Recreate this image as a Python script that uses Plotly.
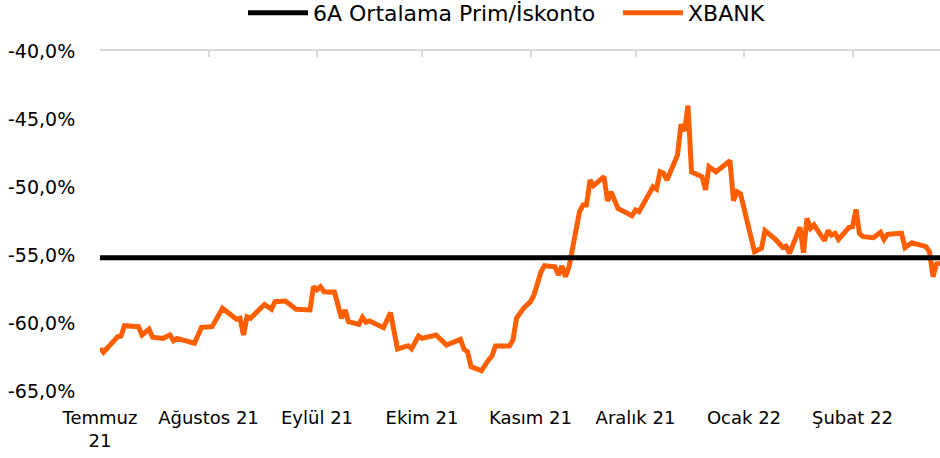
"""XBANK premium/discount vs 6-month average."""

import plotly.graph_objects as go

DATES = [
    "2021-07-01", "2021-07-02", "2021-07-06", "2021-07-07", "2021-07-08",
    "2021-07-12", "2021-07-13", "2021-07-15", "2021-07-16", "2021-07-19",
    "2021-07-21", "2021-07-22", "2021-07-23", "2021-07-27", "2021-07-28",
    "2021-07-30", "2021-08-02", "2021-08-05", "2021-08-09", "2021-08-10",
    "2021-08-11", "2021-08-12", "2021-08-13", "2021-08-17", "2021-08-19",
    "2021-08-20", "2021-08-23", "2021-08-26", "2021-08-30", "2021-08-31",
    "2021-09-01", "2021-09-02", "2021-09-03", "2021-09-06", "2021-09-08",
    "2021-09-09", "2021-09-10", "2021-09-13", "2021-09-14", "2021-09-15",
    "2021-09-16", "2021-09-20", "2021-09-22", "2021-09-24", "2021-09-27",
    "2021-09-28", "2021-09-30", "2021-10-01", "2021-10-05", "2021-10-08",
    "2021-10-12", "2021-10-13", "2021-10-14", "2021-10-15", "2021-10-18",
    "2021-10-20", "2021-10-21", "2021-10-22", "2021-10-26", "2021-10-27",
    "2021-10-28", "2021-10-30", "2021-11-01", "2021-11-02", "2021-11-04",
    "2021-11-05", "2021-11-08", "2021-11-09", "2021-11-10", "2021-11-11",
    "2021-11-12", "2021-11-15", "2021-11-16", "2021-11-17", "2021-11-18",
    "2021-11-19", "2021-11-22", "2021-11-23", "2021-11-24", "2021-11-26",
    "2021-11-30", "2021-12-01", "2021-12-02", "2021-12-06", "2021-12-07",
    "2021-12-08", "2021-12-09", "2021-12-10", "2021-12-13", "2021-12-14",
    "2021-12-15", "2021-12-16", "2021-12-17", "2021-12-20", "2021-12-21",
    "2021-12-22", "2021-12-24", "2021-12-28", "2021-12-29", "2021-12-30",
    "2021-12-31", "2022-01-04", "2022-01-06", "2022-01-07", "2022-01-10",
    "2022-01-12", "2022-01-13", "2022-01-14", "2022-01-17", "2022-01-18",
    "2022-01-19", "2022-01-20", "2022-01-21", "2022-01-24", "2022-01-25",
    "2022-01-26", "2022-01-27", "2022-01-28", "2022-01-31", "2022-02-01",
    "2022-02-02", "2022-02-03", "2022-02-04", "2022-02-07", "2022-02-09",
    "2022-02-10", "2022-02-11", "2022-02-15", "2022-02-16", "2022-02-18",
    "2022-02-22", "2022-02-23", "2022-02-24", "2022-02-25", "2022-02-26",
]

XBANK = [
    -61.86, -62.15, -61.01, -60.96, -60.20,
    -60.27, -60.88, -60.46, -61.05, -61.13,
    -60.88, -61.30, -61.13, -61.38, -61.49,
    -60.32, -60.27, -58.92, -59.73, -59.65,
    -60.88, -59.54, -59.65, -58.63, -58.99,
    -58.43, -58.38, -58.99, -59.04, -57.33,
    -57.57, -57.33, -57.70, -57.74, -59.65,
    -59.04, -59.90, -60.10, -59.58, -59.95,
    -59.85, -60.35, -59.24, -61.91, -61.67,
    -61.90, -60.96, -61.13, -60.88, -61.62,
    -61.20, -61.93, -62.11, -63.21, -63.51,
    -62.72, -62.43, -61.69, -61.69, -61.25,
    -59.65, -58.92, -58.43, -57.94, -56.23,
    -55.79, -55.87, -56.47, -55.81, -56.60,
    -55.87, -51.82, -51.32, -51.32, -49.49,
    -49.90, -49.24, -51.03, -50.35, -51.57,
    -52.11, -51.69, -51.82, -49.98, -50.15,
    -48.88, -48.99, -49.49, -47.65, -45.39,
    -45.88, -44.02, -48.88, -49.24, -50.22,
    -48.51, -48.88, -48.07, -51.01, -50.35,
    -50.51, -54.76, -54.51, -53.21, -53.85,
    -54.43, -54.34, -54.88, -52.96, -54.83,
    -52.30, -53.04, -52.79, -53.95, -53.21,
    -53.53, -53.40, -53.85, -52.96, -52.92,
    -51.66, -53.43, -53.65, -53.73, -53.33,
    -53.85, -53.48, -53.40, -54.46, -54.10,
    -54.39, -54.76, -56.60, -55.66, -55.61,
]

AVG_6M = -55.2

MONTH_TICKS = [
    "2021-07-01", "2021-08-01", "2021-09-01", "2021-10-01",
    "2021-11-01", "2021-12-01", "2022-01-01", "2022-02-01",
]
MONTH_LABELS = [
    "Temmuz<br>21", "Ağustos 21", "Eylül 21", "Ekim 21",
    "Kasım 21", "Aralık 21", "Ocak 22", "Şubat 22",
]

Y_TICKS = [-65, -60, -55, -50, -45, -40]
Y_LABELS = ["-65,0%", "-60,0%", "-55,0%", "-50,0%", "-45,0%", "-40,0%"]

FONT = "DejaVu Sans"
GRID = "#D9D9D9"

fig = go.Figure()

fig.add_trace(
    go.Scatter(
        x=DATES,
        y=XBANK,
        mode="lines",
        name="XBANK",
        line=dict(color="#FF5F00", width=5),
        legendrank=2,
    )
)
# average line sits on the top (overlay) axis so it is drawn above XBANK
fig.add_trace(
    go.Scatter(
        x=DATES,
        y=[AVG_6M] * len(DATES),
        xaxis="x2",
        mode="lines",
        name="6A Ortalama Prim/İskonto",
        line=dict(color="#000000", width=5),
        legendrank=1,
    )
)

fig.update_layout(
    width=940,
    height=458,
    paper_bgcolor="white",
    plot_bgcolor="white",
    font=dict(family=FONT, color="#000000", size=18),
    margin=dict(l=100, r=0, t=51, b=67, autoexpand=False),
    showlegend=True,
    legend=dict(
        orientation="h",
        xref="container",
        yref="paper",
        x=243 / 940,
        xanchor="left",
        y=1.112,
        yanchor="middle",
        font=dict(size=22),
        itemwidth=60,
        entrywidth=300,
        entrywidthmode="pixels",
        tracegroupgap=0,
    ),
    xaxis=dict(
        type="date",
        range=["2021-07-01", "2022-02-26"],
        tickvals=MONTH_TICKS,
        ticktext=MONTH_LABELS,
        showgrid=False,
        zeroline=False,
        showline=False,
        ticks="outside",
        ticklen=10,
        tickcolor="rgba(0,0,0,0)",
        tickfont=dict(size=18),
    ),
    xaxis2=dict(
        type="date",
        overlaying="x",
        matches="x",
        side="top",
        anchor="y",
        tickvals=MONTH_TICKS,
        showticklabels=False,
        ticks="inside",
        ticklen=6,
        tickwidth=1.5,
        tickcolor=GRID,
        showline=True,
        linecolor=GRID,
        linewidth=1.5,
        showgrid=False,
        zeroline=False,
    ),
    yaxis=dict(
        range=[-65, -40],
        tickvals=Y_TICKS,
        ticktext=Y_LABELS,
        showgrid=False,
        zeroline=False,
        showline=False,
        ticks="outside",
        ticklen=20,
        tickcolor="rgba(0,0,0,0)",
        tickfont=dict(size=19),
    ),
)

fig.write_html(
    "out.html",
    config={"displayModeBar": False},
    post_script="document.body.style.margin = '0';",
)
